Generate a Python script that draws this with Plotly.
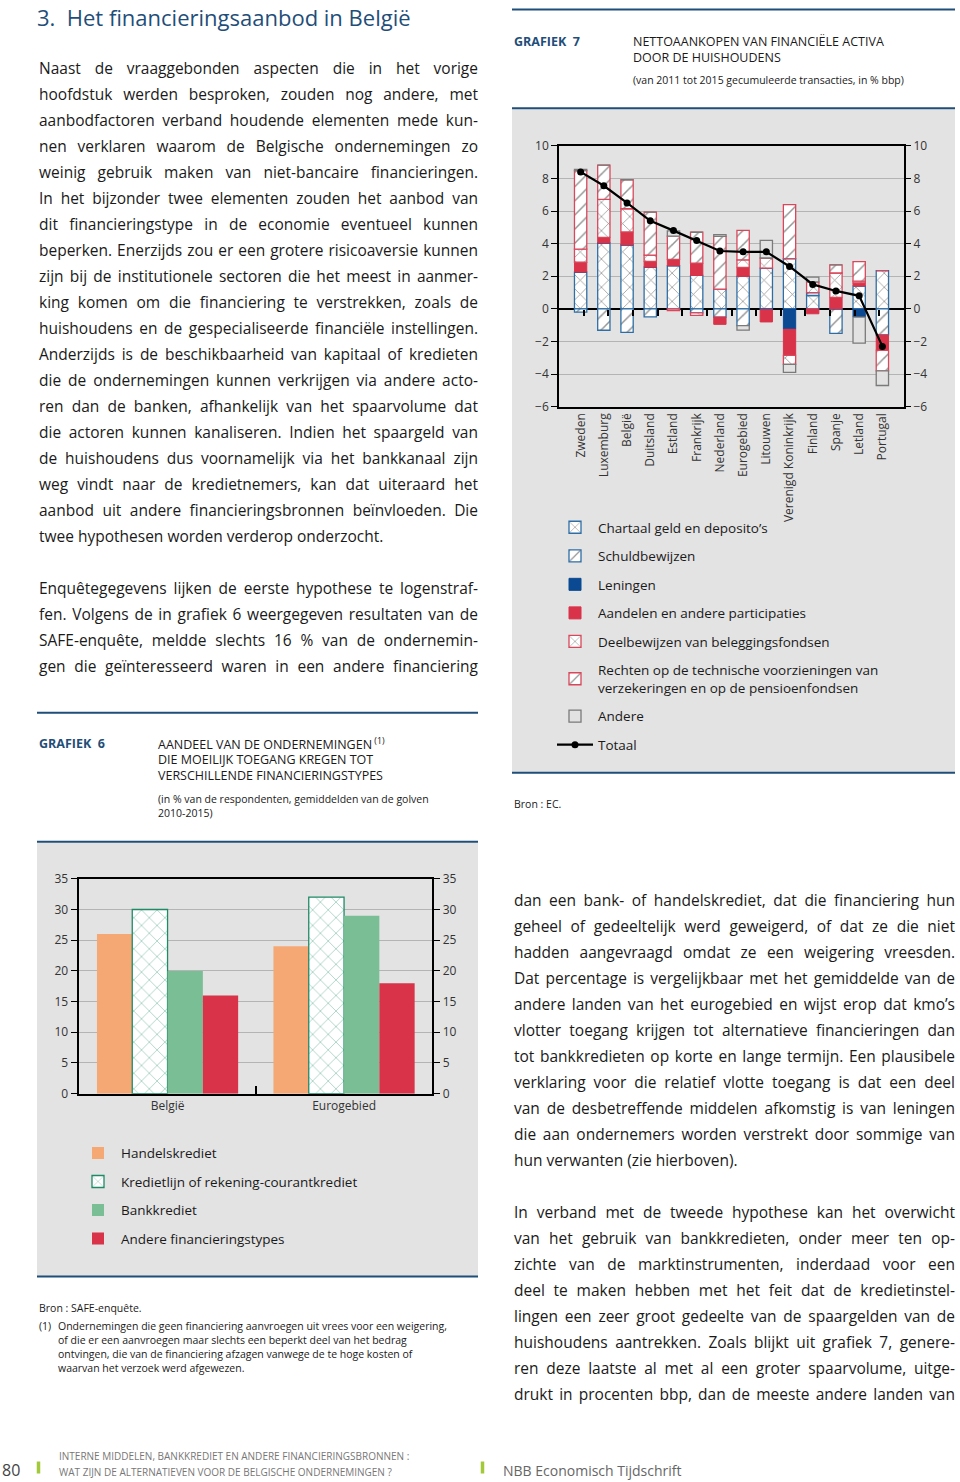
import json
import plotly.graph_objects as go

W, H = 960, 1482
# the viewer shows the figure slightly squeezed and lowered; compensate
OFF, S = 8.8, 0.989
FONT = "Open Sans"
BLUE = "#1f4e79"
TXT = "#1a1a1a"


def px(x):
    return x / W


def py(y):
    yf = (y - OFF) / S
    yf = min(max(yf, 0.5), H - 0.5)
    return 1 - yf / H


# ---------------- DATA: Grafiek 7 ----------------
countries = ["Zweden", "Luxemburg", "België", "Duitsland", "Estland", "Frankrijk",
             "Nederland", "Eurogebied", "Litouwen", "Verenigd Koninkrijk", "Finland",
             "Spanje", "Letland", "Portugal"]
chartaal = [2.26, 4.04, 3.92, 2.56, 2.65, 2.05, 1.21, 1.99, 2.50, 3.08, 0.82, 0.00, 1.40, 2.35]
schuld = [-0.20, -1.31, -1.44, -0.49, 0.00, -0.25, -0.50, -1.03, 0.00, 0.00, 0.18, -1.50, 0.00, -1.60]
leningen = [0.00, 0.00, 0.00, 0.00, 0.00, 0.00, 0.00, 0.00, -0.05, -1.25, 0.00, 0.00, -0.50, 0.00]
aandelen = [0.60, 0.35, 0.80, 0.35, 0.39, 0.76, -0.45, 0.55, -0.75, -1.60, -0.30, 0.70, 0.20, -0.95]
deelbewijzen = [0.80, 2.32, 1.42, 0.39, -0.10, -0.15, 0.00, 0.47, 0.62, -0.55, 0.65, 1.50, 0.10, 0.00]
rechten = [4.82, 2.11, 1.78, 2.63, 1.42, 1.89, 3.24, 1.80, 0.00, 3.32, 0.00, 0.50, 1.20, -1.25]
andere = [0.08, 0.00, 0.00, 0.00, 0.33, 0.00, 0.10, -0.27, 1.08, -0.50, 0.30, 0.00, -1.60, -0.90]
totaal = [8.40, 7.55, 6.50, 5.40, 4.80, 4.20, 3.55, 3.50, 3.50, 2.60, 1.50, 1.10, 0.80, -2.30]

# ---------------- DATA: Grafiek 6 ----------------
groups6 = ["België", "Eurogebied"]
handelskrediet = [26, 24]
kredietlijn = [30, 32]
bankkrediet = [20, 29]
andere_fin = [16, 18]

fig = go.Figure()

BL = "#2f6ea5"
RD = "#d9475b"
bw = 0.53


def pat(shape, size=10, sol=0.15):
    return dict(shape=shape, fgcolor="#2a2a2a", bgcolor="white", size=size, solidity=sol)


series7 = [
    ("Chartaal geld en deposito’s", chartaal, dict(color="white", pattern=pat("x"), line=dict(color=BL, width=1.3))),
    ("Schuldbewijzen", schuld, dict(color="white", pattern=pat("/"), line=dict(color=BL, width=1.3))),
    ("Leningen", leningen, dict(color="#0b4a92", line=dict(color="#0b4a92", width=1))),
    ("Aandelen en andere participaties", aandelen, dict(color="#d9334a", line=dict(color="#d9334a", width=1))),
    ("Deelbewijzen van beleggingsfondsen", deelbewijzen, dict(color="white", pattern=pat("x"), line=dict(color=RD, width=1.3))),
    ("Rechten op de technische voorzieningen van<br>verzekeringen en op de pensioenfondsen", rechten,
     dict(color="white", pattern=pat("/"), line=dict(color=RD, width=1.3))),
    ("Andere", andere, dict(color="#e2e2e2", line=dict(color="#7a7a7a", width=1.3))),
]
for i, (name, vals, mk) in enumerate(series7):
    fig.add_trace(go.Bar(x=countries, y=vals, name=name, marker=mk, width=bw,
                         xaxis="x", yaxis="y", legend="legend", legendgroup=f"g7_{i}"))

fig.add_trace(go.Scatter(x=countries, y=totaal, name="Totaal", mode="lines+markers",
                         line=dict(color="black", width=2.2), marker=dict(color="black", size=7),
                         xaxis="x", yaxis="y", legend="legend", legendgroup="g7_t"))

# helper traces so the overlay axes are built
fig.add_trace(go.Scatter(x=[], y=[], xaxis="x3", yaxis="y", showlegend=False, hoverinfo="skip"))
fig.add_trace(go.Scatter(x=[], y=[], xaxis="x", yaxis="y3", showlegend=False, hoverinfo="skip"))

series6 = [
    ("Handelskrediet", handelskrediet, dict(color="#f5a874", line=dict(width=0))),
    ("Kredietlijn of rekening-courantkrediet", kredietlijn,
     dict(color="white", pattern=dict(shape="x", fgcolor="#1f8a66", bgcolor="white", size=11, solidity=0.12),
          line=dict(color="#1f8a66", width=1.3))),
    ("Bankkrediet", bankkrediet, dict(color="#79be94", line=dict(width=0))),
    ("Andere financieringstypes", andere_fin, dict(color="#d9334a", line=dict(width=0))),
]
for i, (name, vals, mk) in enumerate(series6):
    fig.add_trace(go.Bar(x=groups6, y=vals, name=name, marker=mk, offsetgroup=f"o6_{i}",
                         xaxis="x2", yaxis="y2", legend="legend2", legendgroup=f"g6_{i}"))

fig.add_trace(go.Scatter(x=[], y=[], xaxis="x4", yaxis="y2", showlegend=False, hoverinfo="skip"))
fig.add_trace(go.Scatter(x=[], y=[], xaxis="x2", yaxis="y4", showlegend=False, hoverinfo="skip"))

tickfont = dict(family=FONT, size=12, color="#333")
axline = dict(showline=True, linecolor="black", linewidth=1.5)

# chart 7 geometry (pixels)
c7_x0, c7_x1, c7_ytop, c7_ybot = 559, 904, 145.7, 406.7
ymin7, ymax7 = -6, 10
zero_px = c7_ytop + (ymax7 - 0) / (ymax7 - ymin7) * (c7_ybot - c7_ytop)

# chart 6 geometry
c6_x0, c6_x1, c6_ytop, c6_ybot = 79.3, 432.3, 879, 1094

fig.update_layout(
    width=W, height=H, autosize=False, margin=dict(l=0, r=0, t=0, b=0),
    paper_bgcolor="white", plot_bgcolor="white",
    barmode="relative", bargap=0.2, bargroupgap=0,
    font=dict(family=FONT, color=TXT),
    xaxis=dict(domain=[px(c7_x0), px(c7_x1)], anchor="y", type="category", tickangle=-90,
               ticks="", tickfont=tickfont, mirror=True, showgrid=False, **axline),
    yaxis=dict(domain=[py(c7_ybot), py(c7_ytop)], anchor="x", range=[ymin7, ymax7], dtick=2,
               ticks="outside", ticklen=6, tickcolor="black", tickfont=tickfont,
               gridcolor="#b4b4b4", gridwidth=1, zeroline=True, zerolinecolor="black",
               zerolinewidth=1.5, mirror=True, **axline),
    yaxis3=dict(overlaying="y", side="right", anchor="x", range=[ymin7, ymax7], dtick=2,
                ticks="outside", ticklen=6, tickcolor="black", tickfont=tickfont,
                showgrid=False, zeroline=False, showline=False),
    xaxis3=dict(overlaying="x", anchor="free", position=py(zero_px), range=[-0.5, len(countries) - 0.5],
                tickvals=[i + 0.5 for i in range(len(countries) - 1)], ticks="outside", ticklen=6,
                tickcolor="black", tickwidth=1.5, showticklabels=False, showgrid=False,
                zeroline=False, showline=False),
    xaxis2=dict(domain=[px(c6_x0), px(c6_x1)], anchor="y2", type="category", ticks="",
                tickfont=tickfont, mirror=True, showgrid=False, **axline),
    yaxis2=dict(domain=[py(c6_ybot), py(c6_ytop)], anchor="x2", range=[0, 35], dtick=5,
                ticks="outside", ticklen=7, tickcolor="black", tickfont=tickfont,
                gridcolor="#b4b4b4", gridwidth=1, zeroline=False, mirror=True, **axline),
    yaxis4=dict(overlaying="y2", side="right", anchor="x2", range=[0, 35], dtick=5,
                ticks="outside", ticklen=7, tickcolor="black", tickfont=tickfont,
                showgrid=False, zeroline=False, showline=False),
    xaxis4=dict(overlaying="x2", anchor="y2", range=[-0.5, len(groups6) - 0.5],
                tickvals=[i + 0.5 for i in range(len(groups6) - 1)], ticks="inside", ticklen=8,
                tickcolor="black", tickwidth=1.5, showticklabels=False, showgrid=False,
                zeroline=False, showline=False),
    legend=dict(x=px(552), y=py(512), xanchor="left", yanchor="top", bgcolor="rgba(0,0,0,0)",
                font=dict(family=FONT, size=13.5, color=TXT), traceorder="grouped",
                tracegroupgap=8, itemwidth=36),
    legend2=dict(x=px(75), y=py(1138), xanchor="left", yanchor="top", bgcolor="rgba(0,0,0,0)",
                 font=dict(family=FONT, size=13.5, color=TXT), traceorder="grouped",
                 tracegroupgap=8, itemwidth=36),
)

shapes = []
GRAY = "#e3e3e3"
# panels
shapes.append(dict(type="rect", xref="paper", yref="paper", x0=px(512), x1=px(955), y0=py(773), y1=py(109),
                   fillcolor=GRAY, line=dict(width=0), layer="below"))
shapes.append(dict(type="rect", xref="paper", yref="paper", x0=px(37), x1=px(478), y0=py(1277), y1=py(843),
                   fillcolor=GRAY, line=dict(width=0), layer="below"))
# blue rules
for (x0, x1, y) in [(512, 955, 8), (512, 955, 108), (512, 955, 773),
                    (37, 478, 713), (37, 478, 842), (37, 478, 1277)]:
    shapes.append(dict(type="line", xref="paper", yref="paper", x0=px(x0), x1=px(x1), y0=py(y), y1=py(y),
                       line=dict(color=BLUE, width=2)))
# footer green bars
for x in (38.5, 482.5):
    shapes.append(dict(type="line", xref="paper", yref="paper", x0=px(x), x1=px(x), y0=py(1462), y1=py(1479),
                       line=dict(color="#a3c93a", width=3.5)))
fig.update_layout(shapes=shapes)

ann = []
justify = []


def text(x, y, s, size=16, color=TXT, anchor="left", bold=False, family=FONT, just=None):
    if bold:
        s = f"<b>{s}</b>"
    if just:
        justify.append([len(ann), just])
    ann.append(dict(x=px(x), y=py(y), xref="paper", yref="paper", text=s, showarrow=False,
                    xanchor=anchor, yanchor="middle", align="left",
                    font=dict(family=family, size=size, color=color)))


text(35, 16.5, "3.  Het financieringsaanbod in België", size=22, color=BLUE)

left_col = [
    "Naast de vraaggebonden aspecten die in het vorige",
    "hoofdstuk werden besproken, zouden nog andere, met",
    "aanbodfactoren verband houdende elementen mede kun-",
    "nen verklaren waarom de Belgische ondernemingen zo",
    "weinig gebruik maken van niet-bancaire financieringen.",
    "In het bijzonder twee elementen zouden het aanbod van",
    "dit financieringstype in de economie eventueel kunnen",
    "beperken. Enerzijds zou er een grotere risicoaversie kunnen",
    "zijn bij de institutionele sectoren die het meest in aanmer-",
    "king komen om die financiering te verstrekken, zoals de",
    "huishoudens en de gespecialiseerde financiële instellingen.",
    "Anderzijds is de beschikbaarheid van kapitaal of kredieten",
    "die de ondernemingen kunnen verkrijgen via andere acto-",
    "ren dan de banken, afhankelijk van het spaarvolume dat",
    "die actoren kunnen kanaliseren. Indien het spaargeld van",
    "de huishoudens dus voornamelijk via het bankkanaal zijn",
    "weg vindt naar de kredietnemers, kan dat uiteraard het",
    "aanbod uit andere financieringsbronnen beïnvloeden. Die",
    "twee hypothesen worden verderop onderzocht.",
]
for i, s in enumerate(left_col):
    text(37, 68 + i * 26, s, size=15.5, just=(439 if i < len(left_col) - 1 else None))

left_col2 = [
    "Enquêtegegevens lijken de eerste hypothese te logenstraf-",
    "fen. Volgens de in grafiek 6 weergegeven resultaten van de",
    "SAFE-enquête, meldde slechts 16 % van de ondernemin-",
    "gen die geïnteresseerd waren in een andere financiering",
]
for i, s in enumerate(left_col2):
    text(37, 588 + i * 26, s, size=15.5, just=439)

right_col = [
    "dan een bank- of handelskrediet, dat die financiering hun",
    "geheel of gedeeltelijk werd geweigerd, of dat ze die niet",
    "hadden aangevraagd omdat ze een weigering vreesden.",
    "Dat percentage is vergelijkbaar met het gemiddelde van de",
    "andere landen van het eurogebied en wijst erop dat kmo’s",
    "vlotter toegang krijgen tot alternatieve financieringen dan",
    "tot bankkredieten op korte en lange termijn. Een plausibele",
    "verklaring voor die relatief vlotte toegang is dat een deel",
    "van de desbetreffende middelen afkomstig is van leningen",
    "die aan ondernemers worden verstrekt door sommige van",
    "hun verwanten (zie hierboven).",
]
for i, s in enumerate(right_col):
    text(512, 900 + i * 26, s, size=15.5, just=(441 if i < len(right_col) - 1 else None))

right_col2 = [
    "In verband met de tweede hypothese kan het overwicht",
    "van het gebruik van bankkredieten, onder meer ten op-",
    "zichte van de marktinstrumenten, inderdaad voor een",
    "deel te maken hebben met het feit dat de kredietinstel-",
    "lingen een zeer groot gedeelte van de spaargelden van de",
    "huishoudens aantrekken. Zoals blijkt uit grafiek 7, genere-",
    "ren deze laatste al met al een groter spaarvolume, uitge-",
    "drukt in procenten bbp, dan de meeste andere landen van",
]
for i, s in enumerate(right_col2):
    text(512, 1212 + i * 26, s, size=15.5, just=441)

# Grafiek 7 header
text(512, 41, "GRAFIEK  7", size=12.5, color=BLUE, bold=True)
text(631, 41, "NETTOAANKOPEN VAN FINANCIËLE ACTIVA", size=12.5)
text(631, 57, "DOOR DE HUISHOUDENS", size=12.5)
text(631, 80, "(van 2011 tot 2015 gecumuleerde transacties, in % bbp)", size=10.5)
text(512, 804, "Bron : EC.", size=10.5)

# Grafiek 6 header
text(37, 744, "GRAFIEK  6", size=12.5, color=BLUE, bold=True)
text(156, 744, "AANDEEL VAN DE ONDERNEMINGEN<sup> (1)</sup>", size=12.5)
text(156, 760, "DIE MOEILIJK TOEGANG KREGEN TOT", size=12.5)
text(156, 776, "VERSCHILLENDE FINANCIERINGSTYPES", size=12.5)
text(156, 799, "(in % van de respondenten, gemiddelden van de golven", size=10.5)
text(156, 813, "2010-2015)", size=10.5)

text(37, 1308, "Bron : SAFE-enquête.", size=10.5)
text(37, 1326, "(1)", size=10.5)
notes = [
    "Ondernemingen die geen financiering aanvroegen uit vrees voor een weigering,",
    "of die er een aanvroegen maar slechts een beperkt deel van het bedrag",
    "ontvingen, die van de financiering afzagen vanwege de te hoge kosten of",
    "waarvan het verzoek werd afgewezen.",
]
for i, s in enumerate(notes):
    text(56, 1326 + i * 14, s, size=10.5)

# footer
text(0, 1470, "80", size=16, color="#444")
text(57, 1456, "INTERNE MIDDELEN, BANKKREDIET EN ANDERE FINANCIERINGSBRONNEN :", size=10, color="#777")
text(57, 1472, "WAT ZIJN DE ALTERNATIEVEN VOOR DE BELGISCHE ONDERNEMINGEN ?", size=10, color="#777")
text(501, 1471, "NBB Economisch Tijdschrift", size=14, color="#666")

fig.update_layout(annotations=ann)

js_justify = (
    "document.body.style.margin='0';"
    "var gd=document.getElementById('{plot_id}');"
    "var J=" + json.dumps(justify) + ";"
    "J.forEach(function(p){"
    " var t=gd.querySelector('g.annotation[data-index=\"'+p[0]+'\"] text.annotation-text');"
    " if(!t) return;"
    " var n=(t.textContent.match(/ /g)||[]).length;"
    " var len=t.getComputedTextLength();"
    " if(n>0 && len<p[1]) t.style.wordSpacing=((p[1]-len)/n)+'px';"
    "});"
)

fig.write_html("out.html",
               config={"displayModeBar": False, "responsive": False},
               post_script=js_justify)
